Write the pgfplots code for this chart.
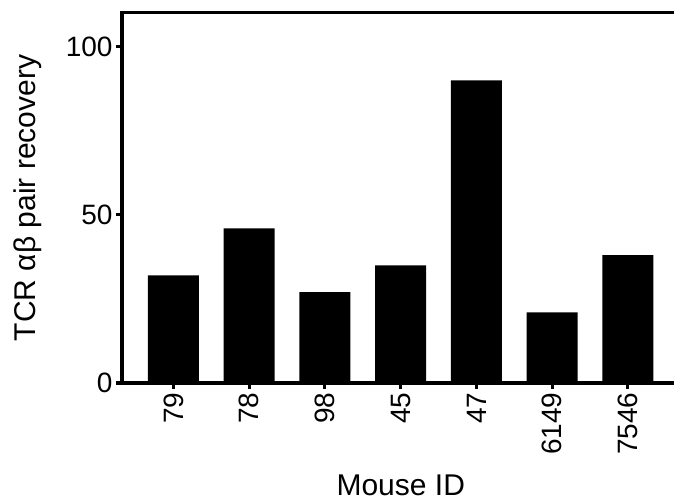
\documentclass[border=0pt]{standalone}
\usepackage{fontspec}
\setmainfont{Liberation Sans}
\usepackage{pgfplots}
\pgfplotsset{compat=1.18}
\newcommand{\ticksize}{\fontsize{28bp}{32bp}\selectfont}
\newcommand{\labelsize}{\fontsize{30bp}{34bp}\selectfont}
\begin{document}
\begin{tikzpicture}
\useasboundingbox (0,0) rectangle (674bp,502bp);
\begin{axis}[
  at={(122bp,119bp)}, anchor=south west,
  scale only axis, width=552bp, height=370bp,
  xmin=-0.68, xmax=6.61,
  ymin=0, ymax=110,
  ytick={0,50,100},
  xtick={0,...,6},
  xticklabels={79,78,98,45,47,6149,7546},
  xtick pos=bottom, ytick pos=left,
  tick align=outside,
  major tick length=6bp,
  every tick/.style={black, line width=3bp},
  axis line style={draw=none},
  /pgf/number format/assume math mode=true,
  tick label style={font=\ticksize},
  x tick label style={rotate=90, anchor=east},
  ylabel={TCR αβ pair recovery},
  xlabel={Mouse ID},
  label style={font=\labelsize},
  ylabel style={at={(axis description cs:-0.1576,0.5)}, anchor=base, rotate=0},
  xlabel style={at={(axis description cs:0.505,-0.305)}, anchor=base},
  clip=false,
]
\addplot[ybar, bar width=51bp, fill=black, draw=none]
  coordinates {(0,32) (1,46) (2,27) (3,35) (4,90) (5,21) (6,38)};
\draw[line width=3bp, line join=miter]
  (rel axis cs:1,0) -- (rel axis cs:0,0) -- (rel axis cs:0,1) -- (rel axis cs:1,1);
\end{axis}
\end{tikzpicture}
\end{document}
